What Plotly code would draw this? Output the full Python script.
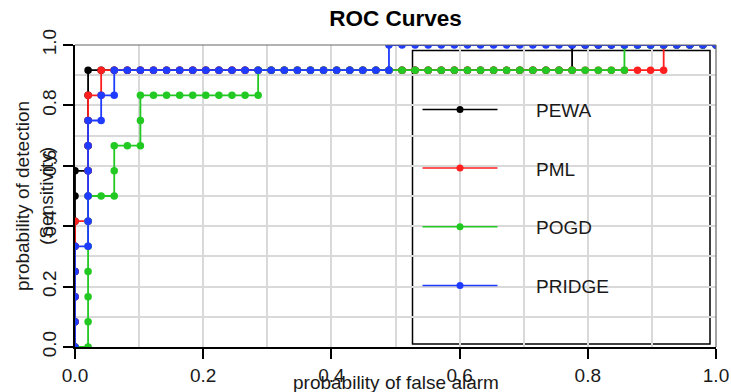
import plotly.graph_objects as go

# ---------------- data ----------------
N_NEG = 49   # number of non-events (false-alarm denominator)
N_POS = 12   # number of events (detection denominator)

series_names = ["PEWA", "PML", "POGD", "PRIDGE"]
series_colors = ["#000000", "#FF1F1F", "#22C922", "#1F3BFF"]

# false-alarm counts / hit counts at each threshold
pewa_fa = [0, 0, 0, 0, 0, 0, 0, 0,
           1, 1, 1, 1, 1,
           2, 3, 4, 5, 6, 7, 8, 9, 10, 11, 12, 13, 14, 15, 16, 17, 18, 19, 20,
           21, 22, 23, 24, 25, 26, 27, 28, 29, 30, 31, 32, 33, 34, 35, 36, 37, 38,
           38, 39, 40, 41, 42, 43, 44, 45, 46, 47, 48, 49]
pewa_hits = [0, 1, 2, 3, 4, 5, 6, 7,
             7, 8, 9, 10, 11,
             11, 11, 11, 11, 11, 11, 11, 11, 11, 11,
             11, 11, 11, 11, 11, 11, 11, 11, 11, 11,
             11, 11, 11, 11, 11, 11, 11, 11, 11, 11,
             11, 11, 11, 11, 11, 11, 11,
             12, 12, 12, 12, 12, 12, 12, 12, 12, 12, 12, 12]

pml_fa = [0, 0, 0, 0, 0, 0,
          1, 1, 1, 1, 1, 1,
          2, 2,
          3, 4, 5, 6, 7, 8, 9, 10, 11, 12, 13, 14, 15, 16, 17, 18, 19, 20, 21, 22,
          23, 24, 25, 26, 27, 28, 29, 30, 31, 32, 33, 34, 35, 36, 37, 38, 39, 40,
          41, 42, 43, 44, 45,
          45, 46, 47, 48, 49]
pml_hits = [0, 1, 2, 3, 4, 5,
            5, 6, 7, 8, 9, 10,
            10, 11,
            11, 11, 11, 11, 11, 11, 11, 11, 11, 11,
            11, 11, 11, 11, 11, 11, 11, 11, 11, 11,
            11, 11, 11, 11, 11, 11, 11, 11, 11, 11,
            11, 11, 11, 11, 11, 11, 11, 11, 11, 11,
            11, 11, 11,
            12, 12, 12, 12, 12]

pogd_fa = [0,
           1, 1, 1, 1, 1, 1, 1,
           2,
           3, 3, 3,
           4,
           5, 5, 5,
           6, 7, 8, 9, 10, 11, 12, 13, 14,
           14,
           15, 16, 17, 18, 19, 20, 21, 22, 23, 24, 25, 26, 27, 28, 29, 30, 31, 32,
           33, 34, 35, 36, 37, 38, 39, 40, 41, 42,
           42,
           43, 44, 45, 46, 47, 48, 49]
pogd_hits = [0,
             0, 1, 2, 3, 4, 5, 6,
             6,
             6, 7, 8,
             8,
             8, 9, 10,
             10, 10, 10, 10, 10, 10, 10, 10, 10,
             11,
             11, 11, 11, 11, 11, 11, 11, 11, 11, 11,
             11, 11, 11, 11, 11, 11, 11, 11, 11, 11,
             11, 11, 11, 11, 11, 11, 11, 11,
             12,
             12, 12, 12, 12, 12, 12, 12]

pridge_fa = [0, 0, 0, 0, 0,
             1, 1, 1, 1, 1, 1,
             2, 2,
             3, 3,
             4, 5, 6, 7, 8, 9, 10, 11, 12, 13, 14, 15, 16, 17, 18, 19, 20, 21, 22, 23, 24,
             24,
             25, 26, 27, 28, 29, 30, 31, 32, 33, 34, 35, 36, 37, 38, 39, 40, 41, 42,
             43, 44, 45, 46, 47, 48, 49]
pridge_hits = [0, 1, 2, 3, 4,
               4, 5, 6, 7, 8, 9,
               9, 10,
               10, 11,
               11, 11, 11, 11, 11, 11, 11, 11, 11, 11,
               11, 11, 11, 11, 11, 11, 11, 11, 11, 11, 11,
               12,
               12, 12, 12, 12, 12, 12, 12, 12, 12, 12,
               12, 12, 12, 12, 12, 12, 12, 12, 12, 12,
               12, 12, 12, 12, 12]

false_alarm_counts = [pewa_fa, pml_fa, pogd_fa, pridge_fa]
hit_counts = [pewa_hits, pml_hits, pogd_hits, pridge_hits]

tick_values = [0.0, 0.2, 0.4, 0.6, 0.8, 1.0]
tick_labels = ["0.0", "0.2", "0.4", "0.6", "0.8", "1.0"]

# ---------------- layout geometry (pixels) ----------------
W, H = 731, 392
ML, MR, MT, MB = 75, 15, 45, 45
PW = W - ML - MR
PH = H - MT - MB
FONT = "Liberation Sans, Arial, Helvetica, sans-serif"
FS = 19


def xp(px):
    return (px - ML) / PW


def yp(py):
    return (H - MB - py) / PH


fig = go.Figure()

for name, color, fa, hits in zip(series_names, series_colors, false_alarm_counts, hit_counts):
    assert len(fa) == len(hits)
    fig.add_trace(go.Scatter(
        x=[f / N_NEG for f in fa],
        y=[h / N_POS for h in hits],
        mode="lines+markers",
        name=name,
        line=dict(color=color, width=1.8),
        marker=dict(color=color, size=7.5),
        cliponaxis=True,
        showlegend=False,
    ))

shapes = []
annotations = []

# legend box (above grid, below traces)
shapes.append(dict(type="rect", xref="paper", yref="paper",
                   x0=xp(412.5), x1=xp(710), y0=yp(344), y1=yp(50.5),
                   line=dict(color="#000000", width=1.5), fillcolor="white",
                   layer="between"))

leg_y = [109.5, 168.0, 226.8, 285.5]
for name, color, ly in zip(series_names, series_colors, leg_y):
    shapes.append(dict(type="line", xref="paper", yref="paper",
                       x0=xp(422.5), x1=xp(497.5), y0=yp(ly), y1=yp(ly),
                       line=dict(color=color, width=1.6), layer="above"))
    shapes.append(dict(type="circle", xref="paper", yref="paper",
                       x0=xp(456.5), x1=xp(463.5), y0=yp(ly + 3.5), y1=yp(ly - 3.5),
                       line=dict(color=color, width=0), fillcolor=color, layer="above"))
    annotations.append(dict(text=name, xref="paper", yref="paper",
                            x=xp(534), y=yp(ly + 1), xanchor="left", yanchor="middle",
                            showarrow=False, font=dict(family=FONT, size=FS, color="#1a1a1a")))

# grey top and right frame
shapes.append(dict(type="line", xref="paper", yref="paper", x0=0, x1=1, y0=1, y1=1,
                   line=dict(color="#666666", width=1.2), layer="above"))
shapes.append(dict(type="line", xref="paper", yref="paper", x0=1, x1=1, y0=0, y1=1,
                   line=dict(color="#666666", width=1.2), layer="above"))

# axis titles
annotations.append(dict(text="probability of false alarm", xref="paper", yref="paper",
                        x=0.5, y=yp(382), xanchor="center", yanchor="middle",
                        showarrow=False, font=dict(family=FONT, size=FS, color="#1a1a1a")))
annotations.append(dict(text="probability of detection", xref="paper", yref="paper",
                        x=xp(22), y=0.5, xanchor="center", yanchor="middle", textangle=-90,
                        showarrow=False, font=dict(family=FONT, size=FS, color="#1a1a1a")))
annotations.append(dict(text="(Sensitivity)", xref="paper", yref="paper",
                        x=xp(46), y=0.5, xanchor="center", yanchor="middle", textangle=-90,
                        showarrow=False, font=dict(family=FONT, size=FS, color="#1a1a1a")))

grid_col = "#D9D9D9"
axis_common = dict(
    range=[0, 1], tickmode="array", tickvals=tick_values, ticktext=tick_labels,
    ticks="outside", ticklen=10, tickwidth=1.5, tickcolor="#000000",
    showline=True, linecolor="#000000", linewidth=1.5,
    showgrid=True, gridcolor=grid_col, gridwidth=1.5,
    minor=dict(dtick=0.1, tick0=0, showgrid=True, gridcolor=grid_col, gridwidth=1.5, ticks=""),
    zeroline=False, fixedrange=True, automargin=False,
    tickfont=dict(family=FONT, size=FS, color="#1a1a1a"),
)

fig.update_layout(
    width=W, height=H,
    margin=dict(l=ML, r=MR, t=MT, b=MB, pad=0, autoexpand=False),
    paper_bgcolor="white", plot_bgcolor="white",
    title=dict(text="<b>ROC Curves</b>", x=0.5, xref="paper", xanchor="center",
               y=1 - 18 / H, yref="container", yanchor="middle", automargin=False,
               font=dict(family=FONT, size=22.5, color="#000000")),
    xaxis=dict(**axis_common),
    yaxis=dict(**axis_common, tickangle=-90),
    shapes=shapes,
    annotations=annotations,
    showlegend=False,
)

fig.write_html(
    "out.html",
    config={"displayModeBar": False},
    post_script="document.body.style.margin='0';document.body.style.overflow='hidden';",
)
